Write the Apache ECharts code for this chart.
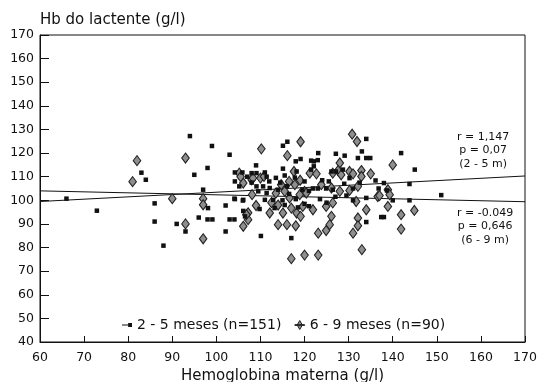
<!DOCTYPE html>
<html>
<head>
<meta charset="utf-8">
<script src="https://cdn.jsdelivr.net/npm/echarts@6/dist/echarts.min.js"></script>
<style>
  html, body { margin: 0; padding: 0; background: #fff; }
  #chart { width: 539px; height: 382px; }
</style>
</head>
<body>
<div id="chart"></div>
<script>
// 2 - 5 meses (squares)
var grupo1 = [
  [66, 100.7], [72.9, 95.6], [83, 111.7], [84, 108.7], [86, 98.7], [86, 91], [88, 80.8],
  [91, 90], [93, 86.8], [94, 127.2], [95, 110.8], [96, 92.7], [97, 104.5], [98, 113.7],
  [98.1, 96.7], [98, 91.9], [99.1, 91.9], [99, 123], [102.1, 97.8], [102.1, 86.8],
  [103, 119.3], [103, 91.9], [104.1, 91.9], [104.1, 100.7], [106, 99.9], [110.1, 84.9],
  [111, 100.2],
  [104.2, 111.8], [105.9, 111.8], [108, 111.5], [109.1, 111.5], [111, 111.8], [111.4, 110],
  [109, 114.8], [104.2, 108], [105.2, 105.9], [109.1, 105.9], [110.6, 105.9], [112.1, 105.2],
  [109.5, 103.8], [111.4, 103.1], [112.9, 100.2], [104.2, 100.5], [106.1, 100.2], [106.5, 93.2],
  [106.1, 95.5], [109.8, 96.3], [113.2, 96.7], [108, 107.5], [107, 110], [112, 108],
  [115.1, 123.1], [116.1, 124.8], [118, 116.5], [119.1, 117.5], [115.1, 113.4], [118.2, 112.2],
  [121.5, 116.8], [121.5, 113], [114, 104.5], [115, 100], [116.5, 102.7], [118, 100.5],
  [119.5, 104.5], [121, 104], [117, 84], [115.5, 98], [118.5, 97], [120, 98.5], [114.5, 107.5],
  [116, 106], [113.5, 109.5], [120, 108], [117.8, 109.6], [115.5, 110.5],
  [123.1, 120], [127.1, 119.7], [129.1, 118.9], [133, 120.7], [134, 117.9], [134.9, 117.9],
  [132.1, 117.9], [134, 126], [141.9, 120], [145, 113], [122.1, 116.5], [123, 117],
  [122.1, 114.4], [126.1, 112.2], [127.1, 112.2], [128.7, 113], [130.2, 109.4], [136.1, 108.4],
  [138, 107.3], [143.8, 106.9], [121.9, 105], [123, 105], [124.9, 105], [126.4, 104.5],
  [131, 105], [134, 101], [136.8, 105], [138.7, 104.2], [143.8, 100], [151, 102.2],
  [121, 97.5], [125, 99], [131, 100], [137.4, 92.9], [134, 90.8], [138, 92.9], [124, 108.5],
  [129, 107], [132.5, 107.5], [127, 101.5], [129.5, 102], [123.5, 100.5], [125.5, 108], [140, 100]
];

// 6 - 9 meses (diamonds)
var grupo2 = [
  [81, 107.9], [82, 116.8], [93, 117.9], [90, 100.7], [93, 90], [97, 100.7], [97, 98.1],
  [97, 83.7], [106.1, 89], [107.2, 94.7], [107.2, 91.8], [106.8, 93.9], [109, 97.8],
  [108.1, 102.4], [112.1, 94.6], [110.2, 121.8], [105.2, 111.5], [106.1, 107.3], [108, 108.7],
  [110, 109.4], [110.8, 110.1], [105.5, 110], [108.3, 109.4],
  [114.7, 106.6], [115.5, 103.8], [116.6, 101], [115.1, 94.6], [114, 89.7], [116, 89.7],
  [118, 89.2], [117, 96.7], [118.2, 94.6], [119.1, 93.2], [117, 75.3], [120, 76.8],
  [123.1, 76.8], [116.1, 118.9], [119.1, 124.8], [117.6, 112.2], [117.8, 106.6], [120, 103.8],
  [121.2, 111.5], [122.7, 111.2],
  [118.9, 102.4], [119.6, 97.4], [121.9, 96], [124.9, 97.4], [126.4, 98.9], [131.7, 99.5],
  [134, 96], [136.6, 101.6], [138.9, 97.4], [141.9, 93.9], [144.9, 95.7], [141.9, 87.8],
  [131, 86.1], [132.1, 92.5], [132.1, 89.2], [133, 79.1], [123.1, 86.1], [124.9, 87.2],
  [126.1, 93.2], [125.7, 89.7],
  [123.8, 106.6], [126.1, 105.2], [120.4, 103.1], [128, 103.8], [130.2, 104.2], [132.1, 105.9],
  [137, 102], [138.9, 104.5], [139.3, 102.4],
  [128, 115.8], [126.4, 111.5], [127.6, 112.6], [128.3, 110.8], [130.2, 112.2], [131, 111.2],
  [132.9, 112.6], [132.9, 110.1], [135, 111.2], [130.8, 128], [131.9, 124.9], [140, 115],
  [113.5, 103], [116.5, 108], [119, 108.5], [112.5, 99], [114, 98]
];

// regression lines (end points)
var reta1 = [[60, 99.5], [170, 110.3]];
var reta2 = [[60, 104], [170, 99.4]];

var nomes = ["2 - 5 meses (n=151)", "6 - 9 meses (n=90)"];
var fonte = "'DejaVu Sans', Arial, sans-serif";

var chart = echarts.init(document.getElementById("chart"), null, { renderer: "canvas" });

var options = {
  animation: false,
  textStyle: { fontFamily: fonte, color: "#111" },
  grid: {
    left: 40,
    right: 14,
    top: 35,
    bottom: 40,
    outerBoundsMode: "none",
    containLabel: false,
    show: true,
    borderColor: "#111",
    borderWidth: 1
  },
  legend: {
    data: [
      { name: nomes[0], icon: "path://M0,9h9v1.4h-9z M8,7.2h5v5h-5z" },
      {
        name: nomes[1],
        icon: "path://M0,8.5h13v1h-13z M6.5,3l3.5,6l-3.5,6l-3.5,-6z",
        itemStyle: { borderWidth: 1 }
      }
    ],
    left: 117,
    top: 313,
    itemWidth: 10,
    itemHeight: 9,
    itemGap: 13,
    textStyle: { fontSize: 14, fontFamily: fonte, color: "#111" }
  },
  xAxis: {
    type: "value",
    min: 60,
    max: 170,
    interval: 10,
    name: "Hemoglobina materna (g/l)",
    nameLocation: "middle",
    nameGap: 26,
    nameTextStyle: { fontSize: 15, color: "#111" },
    splitLine: { show: false },
    axisLine: { lineStyle: { color: "#111", width: 1 } },
    axisTick: { inside: true, length: 6, lineStyle: { color: "#111" } },
    axisLabel: { fontSize: 12.5, color: "#111", margin: 9 }
  },
  yAxis: {
    type: "value",
    min: 40,
    max: 170,
    interval: 10,
    name: "Hb do lactente (g/l)",
    nameLocation: "end",
    nameGap: 7,
    nameTextStyle: { fontSize: 15, color: "#111", align: "left" },
    splitLine: { show: false },
    axisLine: { show: true, lineStyle: { color: "#111", width: 1 } },
    axisTick: { inside: true, length: 9, lineStyle: { color: "#111" } },
    axisLabel: { fontSize: 12.5, color: "#111", margin: 6 }
  },
  graphic: [
    {
      type: "text",
      left: 457,
      top: 130,
      style: {
        text: "r = 1,147\np = 0,07\n(2 - 5 m)",
        font: "11px " + fonte,
        fill: "#111",
        textAlign: "center",
        lineHeight: 13.5,
        x: 27
      }
    },
    {
      type: "text",
      left: 457,
      top: 206,
      style: {
        text: "r = -0.049\np = 0,646\n(6 - 9 m)",
        font: "11px " + fonte,
        fill: "#111",
        textAlign: "center",
        lineHeight: 13.5,
        x: 28
      }
    }
  ],
  series: [
    {
      name: "reta1",
      type: "line",
      data: reta1,
      symbol: "none",
      silent: true,
      lineStyle: { color: "#111", width: 1 },
      z: 1
    },
    {
      name: "reta2",
      type: "line",
      data: reta2,
      symbol: "none",
      silent: true,
      lineStyle: { color: "#111", width: 1 },
      z: 1
    },
    {
      name: nomes[0],
      type: "scatter",
      data: grupo1,
      symbol: "rect",
      symbolSize: 4.5,
      itemStyle: { color: "#111", opacity: 1 },
      z: 3
    },
    {
      name: nomes[1],
      type: "scatter",
      data: grupo2,
      symbol: "diamond",
      symbolSize: [7.5, 10],
      itemStyle: { color: "#8e8e8e", borderColor: "#222", borderWidth: 1.1, opacity: 1 },
      z: 2
    }
  ]
};

chart.setOption(options);
</script>
</body>
</html>
